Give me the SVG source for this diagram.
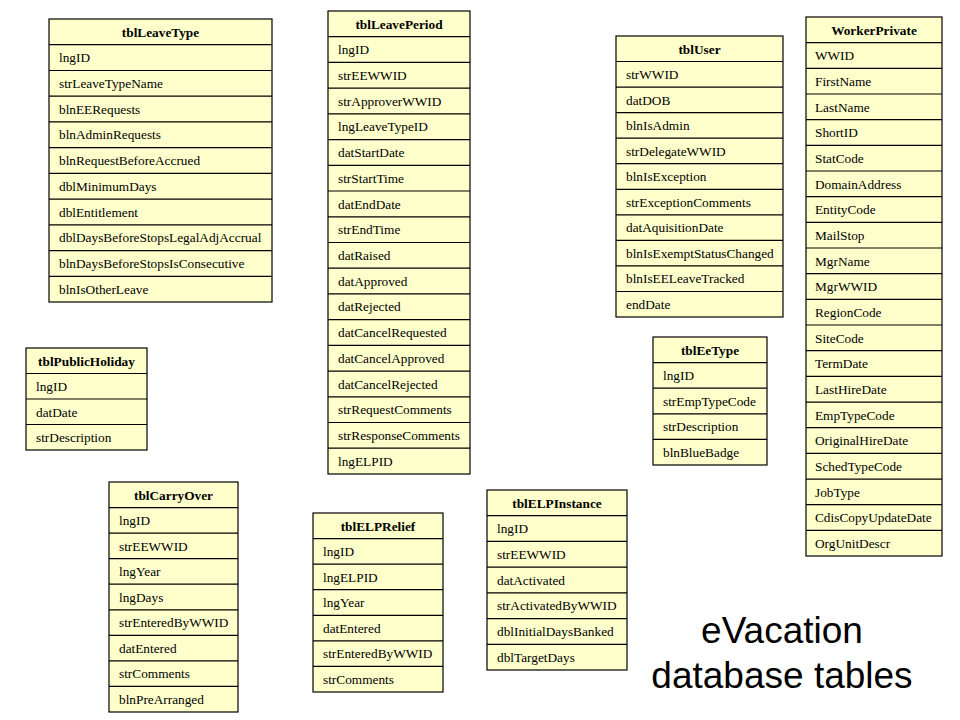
<svg xmlns="http://www.w3.org/2000/svg" width="960" height="720" viewBox="0 0 960 720">
<style>
.box{fill:#FFFFCC;stroke:#000;stroke-width:1.2}
.sep{stroke:#000;stroke-width:1.2}
.h{font-family:"Liberation Serif","Times New Roman",serif;font-size:13.3px;font-weight:bold;text-anchor:middle;fill:#000}
.f{font-family:"Liberation Serif","Times New Roman",serif;font-size:13.3px;fill:#000}
.title{font-family:"Liberation Sans",Arial,sans-serif;font-size:37px;text-anchor:middle;fill:#000}
</style>
<rect width="960" height="720" fill="#fff"/>
<g id="connectors"/>

<g id="tblLeaveType" transform="translate(49,19)">
<rect class="box" x="0" y="0" width="223" height="283"/>
<path class="sep" d="M0 25.7H223M0 51.5H223M0 77.2H223M0 102.9H223M0 128.7H223M0 154.4H223M0 180.1H223M0 205.8H223M0 231.6H223M0 257.3H223"/>
<text class="h" x="111.5" y="18">tblLeaveType</text>
<text class="f" x="10" y="43.2">lngID</text>
<text class="f" x="10" y="69">strLeaveTypeName</text>
<text class="f" x="10" y="94.7">blnEERequests</text>
<text class="f" x="10" y="120.4">blnAdminRequests</text>
<text class="f" x="10" y="146.2">blnRequestBeforeAccrued</text>
<text class="f" x="10" y="171.9">dblMinimumDays</text>
<text class="f" x="10" y="197.6">dblEntitlement</text>
<text class="f" x="10" y="223.3">dblDaysBeforeStopsLegalAdjAccrual</text>
<text class="f" x="10" y="249.1">blnDaysBeforeStopsIsConsecutive</text>
<text class="f" x="10" y="274.8">blnIsOtherLeave</text>
</g>

<g id="tblLeavePeriod" transform="translate(328,11)">
<rect class="box" x="0" y="0" width="142" height="463"/>
<path class="sep" d="M0 25.7H142M0 51.4H142M0 77.2H142M0 102.9H142M0 128.6H142M0 154.3H142M0 180H142M0 205.8H142M0 231.5H142M0 257.2H142M0 282.9H142M0 308.6H142M0 334.4H142M0 360.1H142M0 385.8H142M0 411.5H142M0 437.2H142"/>
<text class="h" x="71" y="18">tblLeavePeriod</text>
<text class="f" x="10" y="43.2">lngID</text>
<text class="f" x="10" y="68.9">strEEWWID</text>
<text class="f" x="10" y="94.7">strApproverWWID</text>
<text class="f" x="10" y="120.4">lngLeaveTypeID</text>
<text class="f" x="10" y="146.1">datStartDate</text>
<text class="f" x="10" y="171.8">strStartTime</text>
<text class="f" x="10" y="197.5">datEndDate</text>
<text class="f" x="10" y="223.3">strEndTime</text>
<text class="f" x="10" y="249">datRaised</text>
<text class="f" x="10" y="274.7">datApproved</text>
<text class="f" x="10" y="300.4">datRejected</text>
<text class="f" x="10" y="326.1">datCancelRequested</text>
<text class="f" x="10" y="351.9">datCancelApproved</text>
<text class="f" x="10" y="377.6">datCancelRejected</text>
<text class="f" x="10" y="403.3">strRequestComments</text>
<text class="f" x="10" y="429">strResponseComments</text>
<text class="f" x="10" y="454.7">lngELPID</text>
</g>

<g id="tblUser" transform="translate(616,36)">
<rect class="box" x="0" y="0" width="167" height="281"/>
<path class="sep" d="M0 25.5H167M0 51.1H167M0 76.6H167M0 102.2H167M0 127.7H167M0 153.3H167M0 178.8H167M0 204.4H167M0 229.9H167M0 255.5H167"/>
<text class="h" x="83.5" y="18">tblUser</text>
<text class="f" x="10" y="43">strWWID</text>
<text class="f" x="10" y="68.6">datDOB</text>
<text class="f" x="10" y="94.1">blnIsAdmin</text>
<text class="f" x="10" y="119.7">strDelegateWWID</text>
<text class="f" x="10" y="145.2">blnIsException</text>
<text class="f" x="10" y="170.8">strExceptionComments</text>
<text class="f" x="10" y="196.3">datAquisitionDate</text>
<text class="f" x="10" y="221.9">blnIsExemptStatusChanged</text>
<text class="f" x="10" y="247.4">blnIsEELeaveTracked</text>
<text class="f" x="10" y="273">endDate</text>
</g>

<g id="WorkerPrivate" transform="translate(806,17)">
<rect class="box" x="0" y="0" width="136" height="539"/>
<path class="sep" d="M0 25.7H136M0 51.3H136M0 77H136M0 102.7H136M0 128.4H136M0 154H136M0 179.7H136M0 205.4H136M0 231H136M0 256.7H136M0 282.4H136M0 308H136M0 333.7H136M0 359.4H136M0 385.1H136M0 410.7H136M0 436.4H136M0 462.1H136M0 487.7H136M0 513.4H136"/>
<text class="h" x="68" y="18">WorkerPrivate</text>
<text class="f" x="9" y="43.2">WWID</text>
<text class="f" x="9" y="68.8">FirstName</text>
<text class="f" x="9" y="94.5">LastName</text>
<text class="f" x="9" y="120.2">ShortID</text>
<text class="f" x="9" y="145.9">StatCode</text>
<text class="f" x="9" y="171.5">DomainAddress</text>
<text class="f" x="9" y="197.2">EntityCode</text>
<text class="f" x="9" y="222.9">MailStop</text>
<text class="f" x="9" y="248.5">MgrName</text>
<text class="f" x="9" y="274.2">MgrWWID</text>
<text class="f" x="9" y="299.9">RegionCode</text>
<text class="f" x="9" y="325.5">SiteCode</text>
<text class="f" x="9" y="351.2">TermDate</text>
<text class="f" x="9" y="376.9">LastHireDate</text>
<text class="f" x="9" y="402.6">EmpTypeCode</text>
<text class="f" x="9" y="428.2">OriginalHireDate</text>
<text class="f" x="9" y="453.9">SchedTypeCode</text>
<text class="f" x="9" y="479.6">JobType</text>
<text class="f" x="9" y="505.2">CdisCopyUpdateDate</text>
<text class="f" x="9" y="530.9">OrgUnitDescr</text>
</g>

<g id="tblPublicHoliday" transform="translate(26,348)">
<rect class="box" x="0" y="0" width="121" height="102"/>
<path class="sep" d="M0 25.5H121M0 51H121M0 76.5H121"/>
<text class="h" x="60.5" y="18">tblPublicHoliday</text>
<text class="f" x="10" y="43">lngID</text>
<text class="f" x="10" y="68.5">datDate</text>
<text class="f" x="10" y="94">strDescription</text>
</g>

<g id="tblCarryOver" transform="translate(109,482)">
<rect class="box" x="0" y="0" width="129" height="230"/>
<path class="sep" d="M0 25.6H129M0 51.1H129M0 76.7H129M0 102.2H129M0 127.8H129M0 153.3H129M0 178.9H129M0 204.4H129"/>
<text class="h" x="64.5" y="18">tblCarryOver</text>
<text class="f" x="10" y="43.1">lngID</text>
<text class="f" x="10" y="68.6">strEEWWID</text>
<text class="f" x="10" y="94.2">lngYear</text>
<text class="f" x="10" y="119.7">lngDays</text>
<text class="f" x="10" y="145.3">strEnteredByWWID</text>
<text class="f" x="10" y="170.8">datEntered</text>
<text class="f" x="10" y="196.4">strComments</text>
<text class="f" x="10" y="221.9">blnPreArranged</text>
</g>

<g id="tblELPRelief" transform="translate(313,513)">
<rect class="box" x="0" y="0" width="130" height="179"/>
<path class="sep" d="M0 25.6H130M0 51.1H130M0 76.7H130M0 102.3H130M0 127.9H130M0 153.4H130"/>
<text class="h" x="65" y="18">tblELPRelief</text>
<text class="f" x="10" y="43.1">lngID</text>
<text class="f" x="10" y="68.6">lngELPID</text>
<text class="f" x="10" y="94.2">lngYear</text>
<text class="f" x="10" y="119.8">datEntered</text>
<text class="f" x="10" y="145.4">strEnteredByWWID</text>
<text class="f" x="10" y="170.9">strComments</text>
</g>

<g id="tblELPInstance" transform="translate(487,490)">
<rect class="box" x="0" y="0" width="140" height="180"/>
<path class="sep" d="M0 25.7H140M0 51.4H140M0 77.1H140M0 102.9H140M0 128.6H140M0 154.3H140"/>
<text class="h" x="70" y="18">tblELPInstance</text>
<text class="f" x="10" y="43.2">lngID</text>
<text class="f" x="10" y="68.9">strEEWWID</text>
<text class="f" x="10" y="94.6">datActivated</text>
<text class="f" x="10" y="120.4">strActivatedByWWID</text>
<text class="f" x="10" y="146.1">dblInitialDaysBanked</text>
<text class="f" x="10" y="171.8">dblTargetDays</text>
</g>

<g id="tblEeType" transform="translate(653,337)">
<rect class="box" x="0" y="0" width="114" height="128"/>
<path class="sep" d="M0 25.6H114M0 51.2H114M0 76.8H114M0 102.4H114"/>
<text class="h" x="57" y="18">tblEeType</text>
<text class="f" x="10" y="43.1">lngID</text>
<text class="f" x="10" y="68.7">strEmpTypeCode</text>
<text class="f" x="10" y="94.3">strDescription</text>
<text class="f" x="10" y="119.9">blnBlueBadge</text>
</g>

<g id="title">
<text class="title" x="782" y="643">eVacation</text>
<text class="title" x="782" y="688">database tables</text>
</g>
</svg>
